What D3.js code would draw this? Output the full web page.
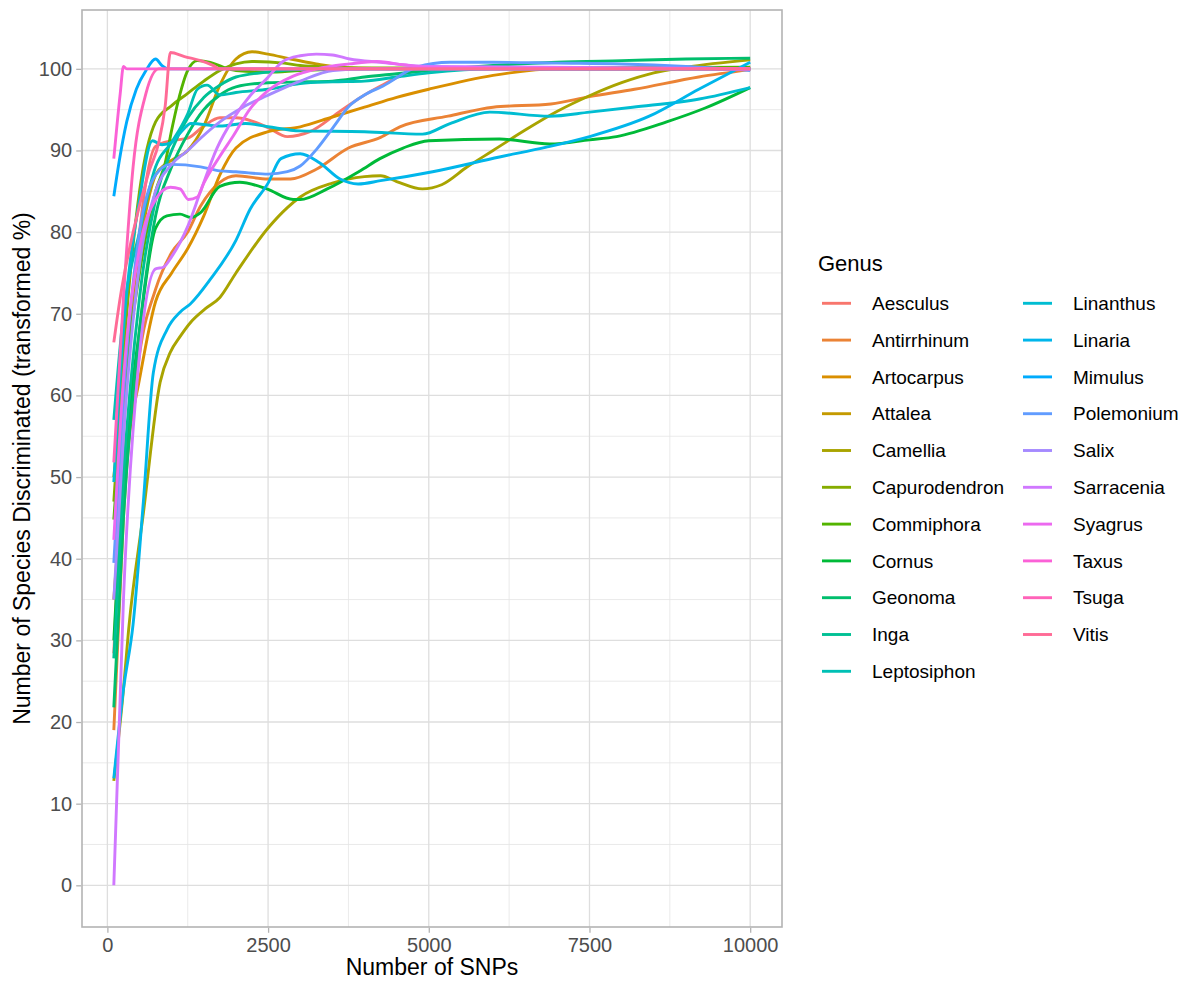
<!DOCTYPE html>
<html>
<head>
<meta charset="utf-8">
<script src="https://cdn.jsdelivr.net/npm/d3@7"></script>
<style>
  html, body { margin: 0; padding: 0; background: #fff; }
  svg { display: block; font-family: "Liberation Sans", Arial, Helvetica, sans-serif; }
</style>
</head>
<body>
<svg id="chart" width="1184" height="981"></svg>
<script>
// Genus names, in legend order
const genera = ["Aesculus", "Antirrhinum", "Artocarpus", "Attalea", "Camellia",
  "Capurodendron", "Commiphora", "Cornus", "Geonoma", "Inga", "Leptosiphon",
  "Linanthus", "Linaria", "Mimulus", "Polemonium", "Salix", "Sarracenia",
  "Syagrus", "Taxus", "Tsuga", "Vitis"];

// [number of SNPs, species discriminated (transformed %)] for each genus
const aesculus = [[100,28.4],[250,55],[500,80],[750,90.5],[1000,91.2],[1250,91.5],[1500,93],[1750,94],[2000,94],[2250,93.6],[2500,92.8],[2800,91.7],[3150,92.3],[3600,94.7],[4000,96.8],[4250,97.9],[4700,99.6],[5000,100],[10000,100]];
const antirrhinum = [[100,19],[250,45],[500,65],[750,73],[1000,77.5],[1250,80],[1450,83.2],[1750,86.1],[2000,86.9],[2500,86.5],[2850,86.5],[3250,87.7],[3750,90.3],[4250,91.6],[4550,92.9],[5300,94.2],[6000,95.3],[6900,95.7],[7500,96.6],[8200,97.5],[9200,99],[10000,99.9]];
const artocarpus = [[100,35],[250,50],[500,62],[750,71.5],[1000,75],[1250,78],[1500,82],[1750,87],[2000,90.3],[2500,92.3],[3000,92.9],[3500,94.1],[4000,95.3],[4500,96.5],[5000,97.5],[6000,99.2],[7000,100],[10000,100]];
const attalea = [[100,50],[250,62],[500,78],[750,87],[900,88.3],[1000,88.8],[1250,90],[1500,93],[1750,98],[2000,101.2],[2250,102.1],[2500,101.8],[2850,101.2],[3250,100.6],[3750,100.1],[4500,100],[10000,100]];
const camellia = [[100,12.8],[250,24],[330,31.3],[560,45.6],[820,61.6],[980,65.3],[1130,67.2],[1300,69],[1520,70.6],[1750,72],[2000,75],[2500,80.5],[2800,83],[3000,84.3],[3500,86],[4000,86.8],[4250,86.9],[4500,86.2],[4900,85.3],[5200,85.8],[5600,88],[6000,90],[6500,92.5],[7000,94.8],[7500,96.7],[8000,98.3],[8500,99.5],[9000,100.2],[10000,101.1]];
const capurodendron = [[100,47],[250,65],[500,85],[750,93.5],[1000,95.5],[1250,97],[1500,98.5],[1750,99.8],[2000,100.6],[2250,100.9],[2750,100.7],[3000,100.4],[3500,100.2],[4000,100.1],[10000,100.1]];
const commiphora = [[100,44.8],[250,60],[500,75],[750,85],[900,88.5],[1000,92.5],[1100,96],[1250,99.8],[1400,101],[1600,100.8],[1800,100.2],[2000,99.8],[2500,99.6],[3000,99.8],[4000,100],[10000,100.2]];
const cornus = [[100,30],[250,50],[500,68],[750,80.5],[925,82],[1130,82.2],[1290,81.8],[1450,82.4],[1750,85.6],[2060,86.1],[2480,85.3],[2890,84],[3000,84],[3420,85.3],[3930,87.5],[4240,89],[4600,90.3],[5000,91.2],[6100,91.4],[6880,90.8],[7500,91.3],[7920,91.7],[8700,93.5],[9300,95.2],[10000,97.7]];
const geonoma = [[100,21.8],[250,45],[500,68],[750,82],[1000,88],[1250,92],[1500,95],[1750,96.8],[2000,97.8],[2500,98.3],[3000,98.4],[3500,98.5],[4000,99],[4500,99.4],[5000,99.8],[6000,100.4],[7000,100.8],[8000,101],[9000,101.2],[10000,101.3]];
const inga = [[100,27.8],[250,50],[500,72],[750,84],[1000,90],[1250,94],[1500,96.5],[1750,98],[2000,99],[2500,99.6],[3000,99.9],[4000,100],[10000,100]];
const leptosiphon = [[100,57],[250,70],[500,80],[750,88],[1000,91],[1250,94.5],[1400,97.5],[1550,98],[1750,96.8],[2000,97.1],[2500,97.5],[3000,98.2],[3500,98.4],[4000,98.5],[4500,99],[5000,99.5],[6000,100],[10000,100]];
const linanthus = [[100,49.4],[250,68],[500,84],[700,91.2],[850,90.7],[1000,91],[1150,92.3],[1300,93.3],[1750,93],[2150,93.3],[2500,92.9],[3000,92.4],[4000,92.3],[4900,92],[5330,93.3],[5950,94.7],[6880,94.2],[7500,94.7],[8170,95.3],[9210,96.3],[10000,97.7]];
const linaria = [[100,13.1],[250,24],[400,32],[560,47],[715,62.8],[930,68.1],[1130,70.2],[1290,71.2],[1600,74.2],[2000,79],[2220,82.8],[2500,86],[2700,89],[3000,89.6],[3300,88.5],[3620,86.5],[3900,85.9],[4250,86.3],[5060,87.4],[6100,89.2],[6830,90.4],[7500,91.7],[8430,94.2],[9200,97.5],[10000,100.8]];
const mimulus = [[100,84.4],[180,88.5],[300,93.5],[450,97.5],[600,99.8],[750,101.2],[850,100.4],[950,100],[10000,100]];
const polemonium = [[100,39.5],[250,60],[500,80],[750,87],[980,88.3],[1450,88],[1750,87.5],[2000,87.4],[2500,87.1],[2800,87.4],[3000,88.1],[3260,90.2],[3510,92.8],[3770,95.5],[4000,96.8],[4290,97.9],[4810,100.2],[5330,100.8],[6000,100.8],[7000,100.7],[8000,100.6],[9000,100.3],[10000,99.8]];
const salix = [[100,35],[250,55],[500,76],[750,85],[1000,88.3],[1250,90],[1450,91.5],[1750,93.5],[2110,95.3],[2480,96.7],[3000,98.5],[3510,99.8],[4000,100],[10000,100]];
const sarracenia = [[100,0],[250,35],[500,65],[750,75.5],[870,75.7],[1000,77],[1250,80.7],[1450,85],[1700,90.2],[1960,93.9],[2220,96.7],[2480,98.8],[2730,100.9],[3000,101.6],[3250,101.8],[3500,101.7],[3770,101.2],[4250,100.8],[5000,100.3],[10000,100]];
const syagrus = [[100,42.3],[250,62],[500,78],[750,84],[980,85.5],[1130,85.3],[1260,84],[1400,84.3],[1500,86],[1750,89.3],[1960,91.8],[2220,95.1],[2480,97.2],[2890,99.1],[3260,100],[3770,100.6],[4190,100.9],[4600,100.5],[5000,100.2],[10000,100]];
const taxus = [[100,89],[200,97],[250,100.3],[300,100],[10000,100]];
const tsuga = [[100,51.8],[250,72],[400,88],[600,97],[800,100],[10000,100]];
const vitis = [[100,66.5],[200,72],[400,80],[650,87.5],[800,91],[900,95.5],[980,102],[1200,101.5],[1450,101],[1650,100.4],[1750,100],[10000,100]];

const seriesValues = [aesculus, antirrhinum, artocarpus, attalea, camellia,
  capurodendron, commiphora, cornus, geonoma, inga, leptosiphon, linanthus,
  linaria, mimulus, polemonium, salix, sarracenia, syagrus, taxus, tsuga, vitis];

// Tick labels
const xTicks = [0, 2500, 5000, 7500, 10000];
const yTicks = [0, 10, 20, 30, 40, 50, 60, 70, 80, 90, 100];

const xTitle = "Number of SNPs";
const yTitle = "Number of Species Discriminated (transformed %)";
const legendTitle = "Genus";

// Polar LUV (R's hcl) to sRGB hex, used to build the default discrete hue palette
function hclLuv(h, c, l) {
  const Xn = 95.047, Yn = 100.0, Zn = 108.883;
  const hr = h * Math.PI / 180;
  const U = c * Math.cos(hr), V = c * Math.sin(hr);
  const Y = Yn * (l > 7.999592 ? Math.pow((l + 16) / 116, 3) : l / 903.3);
  const den = Xn + 15 * Yn + 3 * Zn;
  const un = 4 * Xn / den, vn = 9 * Yn / den;
  const up = U / (13 * l) + un, vp = V / (13 * l) + vn;
  const X = 9 * Y * up / (4 * vp);
  const Z = -X / 3 - 5 * Y + 3 * Y / vp;
  const x = X / 100, y = Y / 100, z = Z / 100;
  let r = 3.240479 * x - 1.537150 * y - 0.498535 * z;
  let g = -0.969256 * x + 1.875992 * y + 0.041556 * z;
  let b = 0.055648 * x - 0.204043 * y + 1.057311 * z;
  const gam = v => {
    v = v <= 0.0031308 ? 12.92 * v : 1.055 * Math.pow(v, 1 / 2.4) - 0.055;
    return Math.round(Math.max(0, Math.min(1, v)) * 255);
  };
  return d3.rgb(gam(r), gam(g), gam(b)).formatHex();
}
const n = genera.length;
const palette = genera.map((_, i) => hclLuv(15 + i * 360 / n, 100, 65));
const color = d3.scaleOrdinal().domain(genera).range(palette);

// Layout
const svg = d3.select("#chart");
const panel = { left: 82, right: 782, top: 10, bottom: 927 };
const tickFont = 20, legendFont = 19, titleFont = 23;

const allX = seriesValues.flat().map(d => d[0]);
const allY = seriesValues.flat().map(d => d[1]);
const expand = (lo, hi) => { const p = (hi - lo) * 0.05; return [lo - p, hi + p]; };

const x = d3.scaleLinear().domain(expand(d3.min(allX), d3.max(allX))).range([panel.left, panel.right]);
const y = d3.scaleLinear().domain(expand(d3.min(allY), d3.max(allY))).range([panel.bottom, panel.top]);

// Grid: minor then major lines
const g = svg.append("g");
const xMinor = d3.range(0, 10001, 1250).filter(v => !xTicks.includes(v));
const yMinor = d3.range(5, 101, 10);
g.selectAll(".xminor").data(xMinor).join("line")
  .attr("x1", d => x(d)).attr("x2", d => x(d))
  .attr("y1", panel.top).attr("y2", panel.bottom)
  .attr("stroke", "#e5e5e5").attr("stroke-width", 0.8);
g.selectAll(".yminor").data(yMinor).join("line")
  .attr("y1", d => y(d)).attr("y2", d => y(d))
  .attr("x1", panel.left).attr("x2", panel.right)
  .attr("stroke", "#e5e5e5").attr("stroke-width", 0.8);
g.selectAll(".xmajor").data(xTicks).join("line")
  .attr("x1", d => x(d)).attr("x2", d => x(d))
  .attr("y1", panel.top).attr("y2", panel.bottom)
  .attr("stroke", "#dedede").attr("stroke-width", 1.3);
g.selectAll(".ymajor").data(yTicks).join("line")
  .attr("y1", d => y(d)).attr("y2", d => y(d))
  .attr("x1", panel.left).attr("x2", panel.right)
  .attr("stroke", "#dedede").attr("stroke-width", 1.3);

// Curves
const line = d3.line()
  .x(d => x(d[0]))
  .y(d => y(d[1]))
  .curve(d3.curveMonotoneX);

svg.append("g").selectAll("path").data(seriesValues).join("path")
  .attr("d", line)
  .attr("fill", "none")
  .attr("stroke", (d, i) => color(genera[i]))
  .attr("stroke-width", 2.9)
  .attr("stroke-linejoin", "round");

// Panel border
svg.append("rect")
  .attr("x", panel.left).attr("y", panel.top)
  .attr("width", panel.right - panel.left).attr("height", panel.bottom - panel.top)
  .attr("fill", "none").attr("stroke", "#b3b3b3").attr("stroke-width", 1.6);

// Axes
const xAxis = d3.axisBottom(x).tickValues(xTicks).tickSize(5).tickPadding(4).tickFormat(d3.format("d"));
const yAxis = d3.axisLeft(y).tickValues(yTicks).tickSize(5).tickPadding(4).tickFormat(d3.format("d"));

const gx = svg.append("g").attr("transform", `translate(0,${panel.bottom + 0.8})`).call(xAxis);
const gy = svg.append("g").attr("transform", `translate(${panel.left - 0.8},0)`).call(yAxis);
[gx, gy].forEach(ax => {
  ax.select(".domain").remove();
  ax.selectAll(".tick line").attr("stroke", "#b3b3b3").attr("stroke-width", 1.3);
  ax.selectAll(".tick text").attr("fill", "#4d4d4d").attr("font-size", tickFont)
    .attr("font-family", "Liberation Sans, Arial, sans-serif");
});
gx.selectAll(".tick text").attr("dy", "0.76em");

// Axis titles
svg.append("text")
  .attr("x", (panel.left + panel.right) / 2).attr("y", 975)
  .attr("text-anchor", "middle").attr("font-size", titleFont).attr("fill", "#000")
  .text(xTitle);
svg.append("text")
  .attr("transform", `translate(30,${(panel.top + panel.bottom) / 2}) rotate(-90)`)
  .attr("text-anchor", "middle").attr("font-size", titleFont).attr("fill", "#000")
  .text(yTitle);

// Legend
const legend = svg.append("g");
legend.append("text").attr("x", 818).attr("y", 271)
  .attr("font-size", 22).attr("fill", "#000").text(legendTitle);

const rows = 11, rowH = 36.8, row0 = 303.3;
const colKey = [822, 1023], colText = [872, 1073];
genera.forEach((name, i) => {
  const c = Math.floor(i / rows), r = i % rows;
  const yy = row0 + r * rowH;
  legend.append("line")
    .attr("x1", colKey[c]).attr("x2", colKey[c] + 29)
    .attr("y1", yy).attr("y2", yy)
    .attr("stroke", color(name)).attr("stroke-width", 2.9);
  legend.append("text")
    .attr("x", colText[c]).attr("y", yy).attr("dy", "0.35em")
    .attr("font-size", legendFont).attr("fill", "#000").text(name);
});
</script>
</body>
</html>
